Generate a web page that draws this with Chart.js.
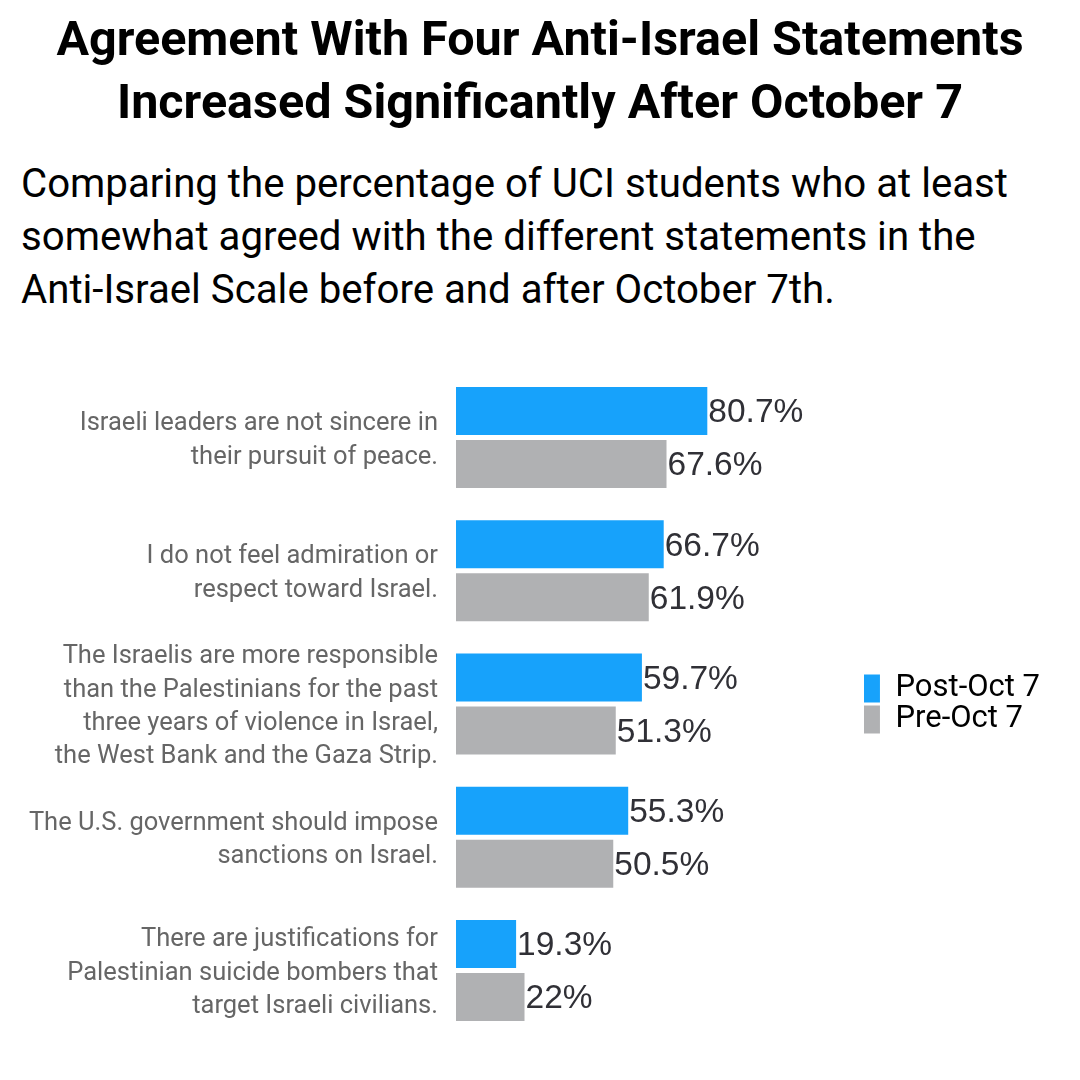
<!DOCTYPE html>
<html>
<head>
<meta charset="utf-8">
<script src="https://cdn.jsdelivr.net/npm/chart.js@4.4.1/dist/chart.umd.min.js"></script>
<style>
  html, body { margin:0; padding:0; background:#fff; }
  #wrap { position:relative; width:1080px; height:1080px; overflow:hidden; }
  #title { position:absolute; left:0; top:7px; width:1080px; text-align:center;
    font-family:Roboto, sans-serif; font-weight:700; font-size:48.5px; line-height:63px; color:#000; }
  #subtitle { position:absolute; left:21px; top:157px; width:1059px;
    font-family:Roboto, sans-serif; font-weight:400; font-size:40.2px; line-height:53px; color:#000; }
  #box { position:absolute; left:0; top:340px; width:1080px; height:740px; }
</style>
</head>
<body>
<div id="wrap">
  <div id="title">Agreement With Four Anti-Israel Statements<br>Increased Significantly After October 7</div>
  <div id="subtitle">Comparing the percentage of UCI students who at least<br>somewhat agreed with the different statements in the<br>Anti-Israel Scale before and after October 7th.</div>
  <div id="box"><canvas id="mycanvas"></canvas></div>
</div>
<script>
var statements = [
	["Israeli leaders are not sincere in", "their pursuit of peace."],
	["I do not feel admiration or", "respect toward Israel."],
	["The Israelis are more responsible", "than the Palestinians for the past", "three years of violence in Israel,", "the West Bank and the Gaza Strip."],
	["The U.S. government should impose", "sanctions on Israel."],
	["There are justifications for", "Palestinian suicide bombers that", "target Israeli civilians."]
];
var postOct7 = [80.7, 66.7, 59.7, 55.3, 19.3];
var preOct7 = [67.6, 61.9, 51.3, 50.5, 22];

// write the value right after the end of each bar
var valueLabels = {
	id: 'valueLabels',
	afterDatasetsDraw: function(chart) {
		var ctx = chart.ctx;
		ctx.save();
		ctx.font = '33.5px "Liberation Sans", Arial, sans-serif';
		ctx.fillStyle = '#303036';
		ctx.textAlign = 'left';
		ctx.textBaseline = 'middle';
		chart.data.datasets.forEach(function(ds, i) {
			chart.getDatasetMeta(i).data.forEach(function(bar, j) {
				ctx.fillText(ds.data[j] + '%', bar.x + 1, bar.y + 2);
			});
		});
		ctx.restore();
	}
};

var chartdata = {
	labels: statements,
	datasets: [
		{
			label: 'Post-Oct 7',
			backgroundColor: '#17a2fb',
			data: postOct7
		},
		{
			label: 'Pre-Oct 7',
			backgroundColor: '#b0b1b3',
			data: preOct7
		}
	]
};

var ctx = document.getElementById('mycanvas');

var barGraph = new Chart(ctx, {
	type: 'bar',
	data: chartdata,
	plugins: [valueLabels],
	options: {
		indexAxis: 'y',
		responsive: true,
		maintainAspectRatio: false,
		animation: false,
		categoryPercentage: 0.7955,
		barPercentage: 0.9057,
		layout: {
			padding: { top: 31, bottom: 43, left: 0, right: 30 }
		},
		scales: {
			x: {
				display: false,
				min: 0,
				max: 131
			},
			y: {
				grid: { display: false, drawTicks: false },
				border: { display: false },
				ticks: {
					autoSkip: false,
					padding: 18,
					labelOffset: 3,
					color: '#666',
					font: { family: 'Roboto', size: 25.5, lineHeight: 1.31 }
				},
				afterFit: function(scale) {
					scale.width = 456;
					scale.paddingTop = 0;
					scale.paddingBottom = 0;
				}
			}
		},
		plugins: {
			legend: {
				display: true,
				position: 'right',
				labels: {
					boxWidth: 16,
					boxHeight: 28,
					padding: 0,
					color: '#000',
					font: { family: 'Roboto', size: 31 }
				}
			},
			tooltip: { enabled: false }
		}
	}
});
</script>
</body>
</html>
